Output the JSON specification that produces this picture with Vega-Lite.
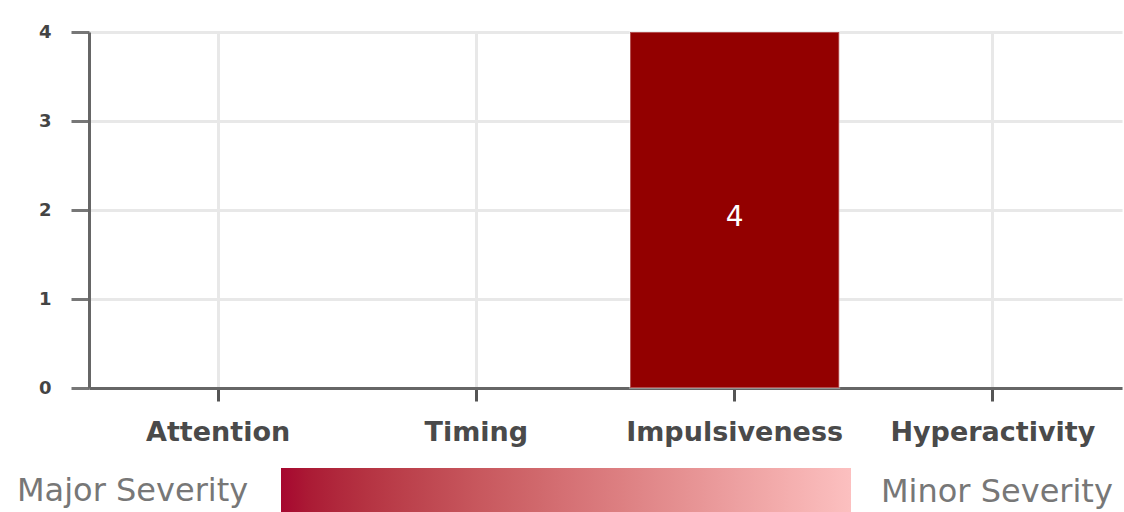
{
  "$schema": "https://vega.github.io/schema/vega-lite/v6.json",
  "width": 1033,
  "height": 356,
  "autosize": {"type": "none"},
  "padding": {"left": 89, "top": 32, "right": 2, "bottom": 124},
  "data": {"values": [
    {"category": "Attention", "score": 0},
    {"category": "Timing", "score": 0},
    {"category": "Impulsiveness", "score": 4},
    {"category": "Hyperactivity", "score": 0}
  ]},
  "config": {"view": {"stroke": null}, "font": "DejaVu Sans"},
  "encoding": {
    "x": {
      "field": "category", "type": "nominal", "sort": null,
      "scale": {"domain": ["Attention", "Timing", "Impulsiveness", "Hyperactivity"], "paddingInner": 0, "paddingOuter": 0},
      "axis": {
        "title": null, "labelAngle": 0, "bandPosition": 0.5, "grid": true,
        "gridColor": "#e8e8e8", "gridWidth": 3,
        "domainColor": "#666", "domainWidth": 3,
        "tickColor": "#555", "tickWidth": 3, "tickSize": 13,
        "labelPadding": 18, "labelFontSize": 27, "labelFontWeight": "bold", "labelColor": "#4a4a4a",
        "labelLimit": 0
      }
    },
    "y": {
      "field": "score", "type": "quantitative",
      "scale": {"domain": [0, 4], "nice": false},
      "axis": {
        "title": null, "values": [0, 1, 2, 3, 4],
        "domainColor": "#666", "domainWidth": 3,
        "tickColor": "#777", "tickWidth": 3, "tickSize": 18,
        "labelPadding": 20, "labelFontSize": 18, "labelFontWeight": "bold", "labelColor": "#444",
        "gridColor": "#e8e8e8", "gridWidth": 3
      }
    }
  },
  "layer": [
    {
      "transform": [{"filter": "datum.score > 0"}],
      "mark": {"type": "bar", "color": "#930000", "width": {"band": 0.81}, "stroke": "#ffffff", "strokeOpacity": 0.3, "strokeWidth": 2}
    },
    {
      "transform": [{"filter": "datum.score > 0"}, {"calculate": "datum.score / 2", "as": "mid"}],
      "mark": {"type": "text", "color": "#ffffff", "fontSize": 28, "baseline": "middle", "dy": 8},
      "encoding": {"y": {"field": "mid", "type": "quantitative"}, "text": {"field": "score", "type": "quantitative"}}
    },
    {
      "mark": {"type": "bar", "opacity": 0},
      "encoding": {
        "color": {
          "field": "score", "type": "quantitative",
          "scale": {"domain": [0, 4], "range": ["#a6072f", "#fcc0c0"]},
          "legend": {
            "orient": "none", "direction": "horizontal",
            "legendX": -72, "legendY": 436,
            "gradientLength": 570, "gradientThickness": 46, "gradientStrokeWidth": 0,
            "title": "Major Severity", "titleOrient": "left", "titleFontSize": 32, "titleLimit": 0,
            "titleFontWeight": "normal", "titleColor": "#777", "titlePadding": 32, "titleBaseline": "middle",
            "values": [0, 4],
            "labelExpr": "datum.value == 4 ? 'Minor Severity' : ''",
            "labelFontSize": 32, "labelColor": "#777", "labelLimit": 0,
            "labelOffset": -22,
            "encode": {"labels": {"update": {"align": {"value": "left"}, "baseline": {"value": "middle"}, "dx": {"value": 30}}}}
          }
        }
      }
    }
  ]
}
